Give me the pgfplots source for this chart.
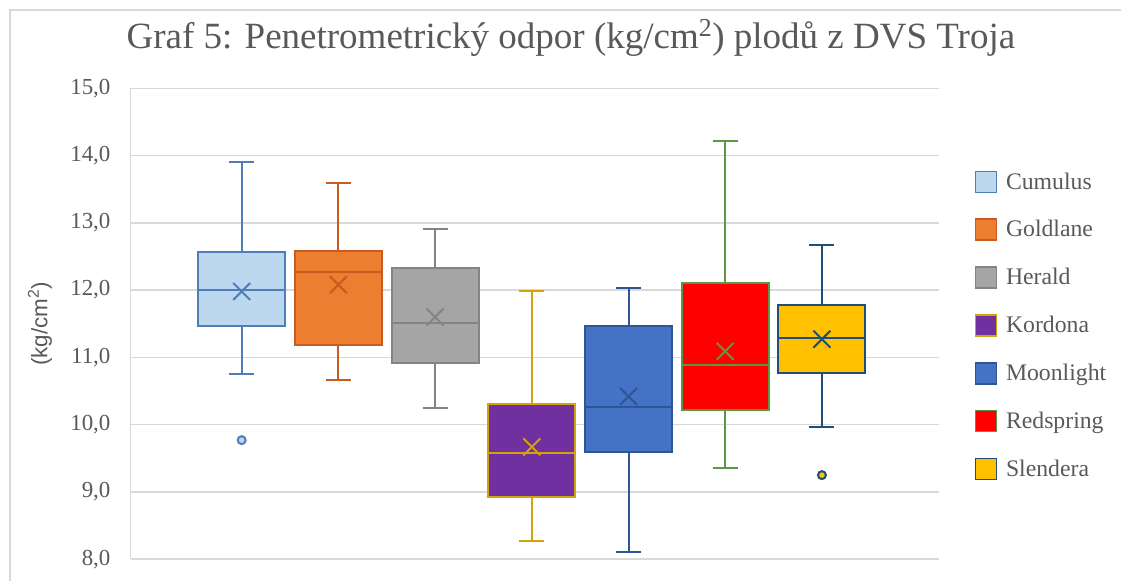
\documentclass[border=0pt]{standalone}
\usepackage{fontspec}
\setmainfont{Liberation Serif}
\newfontfamily\sansf{Liberation Sans}
\usepackage{pgfplots}
\pgfplotsset{compat=1.18}
\usepgfplotslibrary{statistics}
\definecolor{txt}{HTML}{595959}
\definecolor{gridc}{HTML}{D9D9D9}
\definecolor{cAf}{HTML}{BDD7EE}\definecolor{cAd}{HTML}{4F7FBA}
\definecolor{cBf}{HTML}{ED7D31}\definecolor{cBd}{HTML}{C65C1E}
\definecolor{cCf}{HTML}{A5A5A5}\definecolor{cCd}{HTML}{848484}
\definecolor{cDf}{HTML}{7030A0}\definecolor{cDd}{HTML}{D4A20A}
\definecolor{cEf}{HTML}{4472C4}\definecolor{cEd}{HTML}{2F5597}
\definecolor{cFf}{HTML}{FF0000}\definecolor{cFd}{HTML}{5E9743}
\definecolor{cGf}{HTML}{FFC000}\definecolor{cGd}{HTML}{1F4E79}
\pgfplotsset{sqlegend/.style={legend image code/.code={\draw[##1] (0pt,-7.875pt) rectangle (15.75pt,7.875pt);}}}
\pgfplotsset{bx/.style={forget plot, line width=1.5pt, mark=*, mark size=3pt,
  boxplot/draw direction=y,
  boxplot/box extend=0.9, boxplot/whisker extend=0.26,
  boxplot/every average/.style={/tikz/mark=x, /tikz/mark size=9pt}}}
\begin{document}
\begin{tikzpicture}
\begin{axis}[
  at={(98.03pt,16.28pt)}, anchor=south west, scale only axis,
  width=606.45pt, height=353.25pt,
  xmin=-1.1477, xmax=7.2126, ymin=8, ymax=15,
  ytick={8,9,...,15}, xtick=\empty,
  axis y line*=left, axis x line*=bottom,
  x axis line style={draw=none},
  y axis line style={draw=gridc, line width=1.1pt},
  ymajorgrids, major grid style={draw=gridc, line width=1.1pt},
  major tick length=0pt,
  yticklabel style={/pgf/number format/.cd, use comma, fixed, fixed zerofill, precision=1, assume math mode=true,
    /tikz/.cd, font=\fontsize{17.2}{20}\selectfont, text=txt, inner sep=0pt, xshift=-15pt},
  title={Graf 5: Penetrometrický odpor (kg/cm\textsuperscript{2}) plodů z DVS Troja},
  title style={at={(axis description cs:0.5445,1.0665)}, anchor=base, font=\fontsize{27.75}{30}\selectfont, text=txt, inner sep=0pt},
  ylabel={(kg/cm\textsuperscript{2})},
  ylabel style={at={(axis description cs:-0.1122,0.5)}, anchor=center, font=\sansf\fontsize{16.8}{20}\selectfont, text=txt},
  legend style={at={(axis description cs:1.044,0.8265)}, anchor=north west, draw=none, fill=none, inner sep=0pt, outer sep=0pt,
    font=\fontsize{17.8}{20}\selectfont, text=txt, row sep=18.05pt, column sep=4.5pt},
  legend cell align=left,
]
\addlegendimage{sqlegend, draw=cAd, fill=cAf, line width=1.2pt}\addlegendentry{Cumulus}
\addlegendimage{sqlegend, draw=cBd, fill=cBf, line width=1.2pt}\addlegendentry{Goldlane}
\addlegendimage{sqlegend, draw=cCd, fill=cCf, line width=1.2pt}\addlegendentry{Herald}
\addlegendimage{sqlegend, draw=cDd, fill=cDf, line width=1.2pt}\addlegendentry{Kordona}
\addlegendimage{sqlegend, draw=cEd, fill=cEf, line width=1.2pt}\addlegendentry{Moonlight}
\addlegendimage{sqlegend, draw=cFd, fill=cFf, line width=1.2pt}\addlegendentry{Redspring}
\addlegendimage{sqlegend, draw=cGd, fill=cGf, line width=1.2pt}\addlegendentry{Slendera}
\addplot[bx, draw=cAd, fill=cAf,
  boxplot prepared={draw position=0, lower whisker=10.75, lower quartile=11.46, median=12.00, upper quartile=12.56, upper whisker=13.91, average=11.98}]
  table[row sep=\\, y index=0] {data\\ 9.77\\};
\addplot[bx, draw=cBd, fill=cBf,
  boxplot prepared={draw position=1, lower whisker=10.66, lower quartile=11.18, median=12.27, upper quartile=12.58, upper whisker=13.59, average=12.08}]
  coordinates {};
\addplot[bx, draw=cCd, fill=cCf,
  boxplot prepared={draw position=2, lower whisker=10.25, lower quartile=10.92, median=11.51, upper quartile=12.33, upper whisker=12.91, average=11.60}]
  coordinates {};
\addplot[bx, draw=cDd, fill=cDf,
  boxplot prepared={draw position=3, lower whisker=8.27, lower quartile=8.93, median=9.58, upper quartile=10.31, upper whisker=11.99, average=9.67}]
  coordinates {};
\addplot[bx, draw=cEd, fill=cEf,
  boxplot prepared={draw position=4, lower whisker=8.10, lower quartile=9.60, median=10.27, upper quartile=11.47, upper whisker=12.03, average=10.42}]
  coordinates {};
\addplot[bx, draw=cFd, fill=cFf,
  boxplot prepared={draw position=5, lower whisker=9.35, lower quartile=10.22, median=10.89, upper quartile=12.11, upper whisker=14.22, average=11.09}]
  coordinates {};
\addplot[bx, draw=cGd, fill=cGf,
  boxplot prepared={draw position=6, lower whisker=9.97, lower quartile=10.77, median=11.29, upper quartile=11.78, upper whisker=12.67, average=11.27}]
  table[row sep=\\, y index=0] {data\\ 9.25\\};
\end{axis}
\draw[gridc, line width=1.2pt] (7.5pt,0pt) -- (7.5pt,428.25pt) -- (841pt,428.25pt);
\path (0,0) rectangle (841.5pt,435.75pt);
\end{tikzpicture}
\end{document}
